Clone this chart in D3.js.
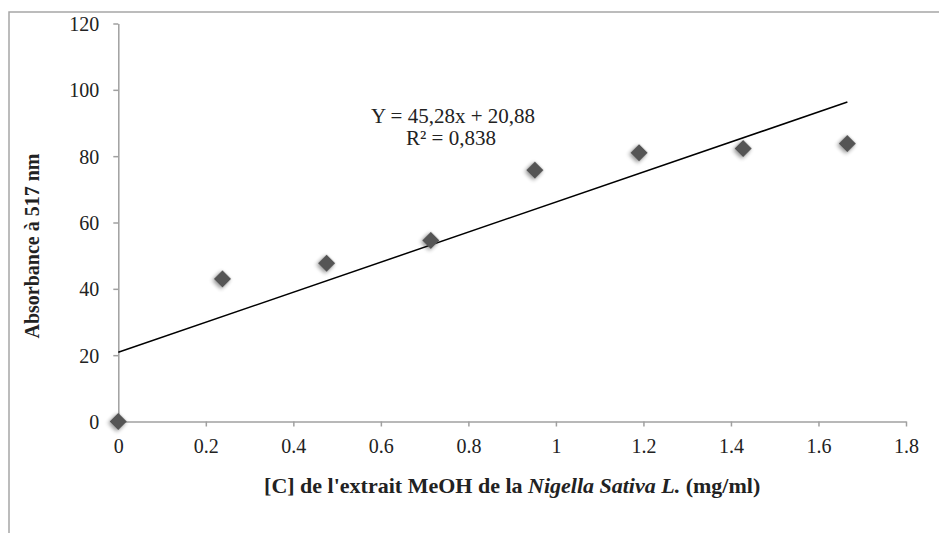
<!DOCTYPE html>
<html>
<head>
<meta charset="utf-8">
<script src="https://cdn.jsdelivr.net/npm/d3@7"></script>
<style>
  body { margin: 0; background: #fff; }
  svg { display: block; }
  .axis path, .axis line { stroke: #a0a0a0; stroke-width: 1.5px; }
</style>
</head>
<body>
<div id="chart"></div>
<script>
// data
const concentrations = [0, 0.238, 0.476, 0.714, 0.952, 1.19, 1.428, 1.666];
const absorbance = [0, 43, 47.7, 54.6, 75.8, 81, 82.3, 83.8];
const yTicks = [0, 20, 40, 60, 80, 100, 120];
const xTicks = [0, 0.2, 0.4, 0.6, 0.8, 1, 1.2, 1.4, 1.6, 1.8];
const trend = { slope: 45.28, intercept: 20.88 };
const equationLines = ["Y = 45,28x + 20,88", "R² = 0,838"];

const serif = "'Liberation Serif', 'Times New Roman', 'DejaVu Serif', serif";

const width = 939,
  height = 533,
  margin = { top: 23.5, right: 33, bottom: 111.5, left: 118.3 };

const svg = d3
  .select("#chart")
  .append("svg")
  .attr("width", width)
  .attr("height", height)
  .attr("font-family", serif);

// soft shadow under markers
const defs = svg.append("defs");
const shadow = defs.append("filter").attr("id", "shadow")
  .attr("x", "-50%").attr("y", "-50%").attr("width", "200%").attr("height", "200%");
shadow.append("feGaussianBlur").attr("in", "SourceAlpha").attr("stdDeviation", 2);
shadow.append("feOffset").attr("dx", 0).attr("dy", 2).attr("result", "blur");
shadow.append("feComponentTransfer").append("feFuncA").attr("type", "linear").attr("slope", 0.45);
const merge = shadow.append("feMerge");
merge.append("feMergeNode");
merge.append("feMergeNode").attr("in", "SourceGraphic");

// outer chart frame (cropped at right/bottom)
svg.append("rect")
  .attr("x", 9).attr("y", 12)
  .attr("width", 1000).attr("height", 600)
  .attr("fill", "none")
  .attr("stroke", "#a6a6a6")
  .attr("stroke-width", 1.5);

const data = concentrations.map((c, i) => ({ x: c, y: absorbance[i] }));

const x = d3.scaleLinear()
  .domain([0, 1.8])
  .range([margin.left, width - margin.right]);

const y = d3.scaleLinear()
  .domain([0, 120])
  .range([height - margin.bottom, margin.top]);

// Y axis
svg.append("g")
  .attr("class", "axis")
  .attr("transform", `translate(${margin.left},0)`)
  .call(d3.axisLeft(y).tickValues(yTicks).tickSize(5).tickSizeOuter(0).tickPadding(14))
  .attr("font-family", serif)
  .attr("font-size", 20)
  .call((g) => g.selectAll("text").attr("dy", "0.35em").attr("fill", "#222"));

// X axis
svg.append("g")
  .attr("class", "axis")
  .attr("transform", `translate(0,${y(0)})`)
  .call(d3.axisBottom(x).tickValues(xTicks).tickSize(5).tickSizeOuter(0).tickPadding(20)
    .tickFormat((d) => String(d)))
  .attr("font-family", serif)
  .attr("font-size", 20)
  .call((g) => g.selectAll("text").attr("dy", "0.3em").attr("fill", "#222"));

// trend line
const x0 = d3.min(concentrations), x1 = d3.max(concentrations);
svg.append("line")
  .attr("x1", x(x0))
  .attr("y1", y(trend.slope * x0 + trend.intercept))
  .attr("x2", x(x1))
  .attr("y2", y(trend.slope * x1 + trend.intercept))
  .attr("stroke", "#000")
  .attr("stroke-width", 1.5);

// diamond markers
svg.append("g")
  .selectAll("path")
  .data(data)
  .join("path")
  .attr("d", d3.symbol(d3.symbolSquare, 150))
  .attr("transform", (d) => `translate(${x(d.x)},${y(d.y)}) rotate(45)`)
  .attr("fill", "#555555")
  .attr("filter", "url(#shadow)");

// equation label
svg.append("g")
  .selectAll("text")
  .data(equationLines)
  .join("text")
  .attr("x", (d, i) => (i === 0 ? 453 : 451))
  .attr("y", (d, i) => 123 + i * 22)
  .attr("text-anchor", "middle")
  .attr("font-size", "21px")
  .attr("fill", "#222")
  .text((d) => d);

// x axis title
const xt = svg.append("text")
  .attr("x", (x.range()[0] + x.range()[1]) / 2)
  .attr("y", 493)
  .attr("text-anchor", "middle")
  .attr("font-size", "22px")
  .attr("font-weight", "bold")
  .attr("fill", "#222");
xt.append("tspan").text("[C] de l'extrait MeOH de la ");
xt.append("tspan").attr("font-style", "italic").text("Nigella Sativa L.");
xt.append("tspan").text(" (mg/ml)");

// y axis title
svg.append("text")
  .attr("transform", "translate(39,246) rotate(-90)")
  .attr("text-anchor", "middle")
  .attr("font-size", "20px")
  .attr("font-weight", "bold")
  .attr("fill", "#222")
  .text("Absorbance à 517 nm");
</script>
</body>
</html>
